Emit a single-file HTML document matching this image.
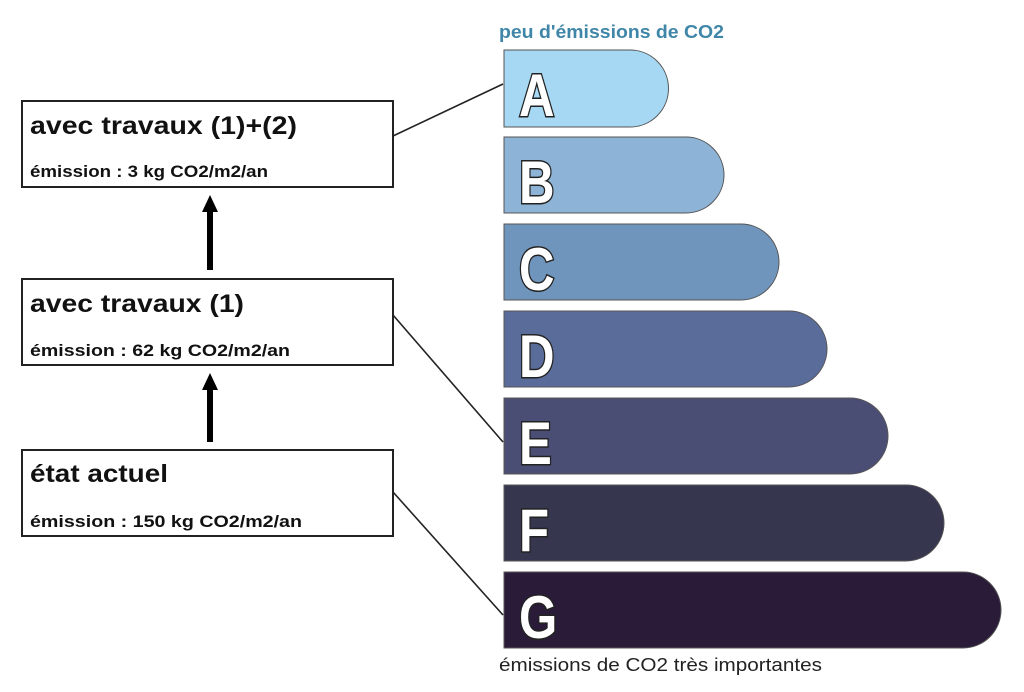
<!DOCTYPE html>
<html><head><meta charset="utf-8"><style>
html,body{margin:0;padding:0;background:#fff;}
svg{display:block}
</style></head><body>
<svg width="1024" height="692" viewBox="0 0 1024 692" xmlns="http://www.w3.org/2000/svg" font-family="Liberation Sans, sans-serif">
<rect width="1024" height="692" fill="#fff"/>
<text x="499" y="38" font-size="18" font-weight="bold" fill="#3f86a8" textLength="225" lengthAdjust="spacingAndGlyphs">peu d'émissions de CO2</text>
<g stroke="#555" stroke-width="1">
<path d="M504 50 H630 A38.5 38.5 0 0 1 630 127 H504 Z" fill="#a6d8f4"/>
<path d="M504 137 H686 A38 38 0 0 1 686 213 H504 Z" fill="#8db3d6"/>
<path d="M504 224 H741 A38 38 0 0 1 741 300 H504 Z" fill="#7095bd"/>
<path d="M504 311 H789 A38 38 0 0 1 789 387 H504 Z" fill="#5a6d9a"/>
<path d="M504 398 H850 A38 38 0 0 1 850 474 H504 Z" fill="#4a4e74"/>
<path d="M504 485 H906 A38 38 0 0 1 906 561 H504 Z" fill="#36364f"/>
<path d="M504 572 H963 A38 38 0 0 1 963 648 H504 Z" fill="#2a1c38"/>
</g>
<g font-size="60" font-weight="bold" fill="#fff" stroke="#222" stroke-width="3" paint-order="stroke" transform="translate(519 0) scale(0.82 1)">
<text x="0" y="116">A</text>
<text x="0" y="203">B</text>
<text x="0" y="290">C</text>
<text x="0" y="377">D</text>
<text x="0" y="464">E</text>
<text x="0" y="551">F</text>
<text x="0" y="638">G</text>
</g>
<text x="499" y="671" font-size="18" fill="#222" textLength="323" lengthAdjust="spacingAndGlyphs">émissions de CO2 très importantes</text>
<g fill="#fff" stroke="#222" stroke-width="2">
<rect x="22" y="101" width="371" height="86"/>
<rect x="22" y="279" width="371" height="86"/>
<rect x="22" y="450" width="371" height="86"/>
</g>
<g fill="#111" font-weight="bold">
<text x="30" y="134" font-size="25" textLength="267" lengthAdjust="spacingAndGlyphs">avec travaux (1)+(2)</text>
<text x="30" y="177" font-size="17" textLength="238" lengthAdjust="spacingAndGlyphs">émission : 3 kg CO2/m2/an</text>
<text x="30" y="312" font-size="25" textLength="214" lengthAdjust="spacingAndGlyphs">avec travaux (1)</text>
<text x="30" y="356" font-size="17" textLength="260" lengthAdjust="spacingAndGlyphs">émission : 62 kg CO2/m2/an</text>
<text x="30" y="482" font-size="25" textLength="138" lengthAdjust="spacingAndGlyphs">état actuel</text>
<text x="30" y="527" font-size="17" textLength="272" lengthAdjust="spacingAndGlyphs">émission : 150 kg CO2/m2/an</text>
</g>
<g stroke="#222" stroke-width="1.6">
<line x1="393" y1="136" x2="503" y2="84"/>
<line x1="393" y1="315" x2="503" y2="442"/>
<line x1="393" y1="492" x2="503" y2="615"/>
</g>
<g fill="#000">
<rect x="207" y="210" width="6" height="60"/>
<polygon points="202,212 218,212 210,195"/>
<rect x="207" y="388" width="6" height="54"/>
<polygon points="202,390 218,390 210,373"/>
</g>
</svg>
</body></html>
